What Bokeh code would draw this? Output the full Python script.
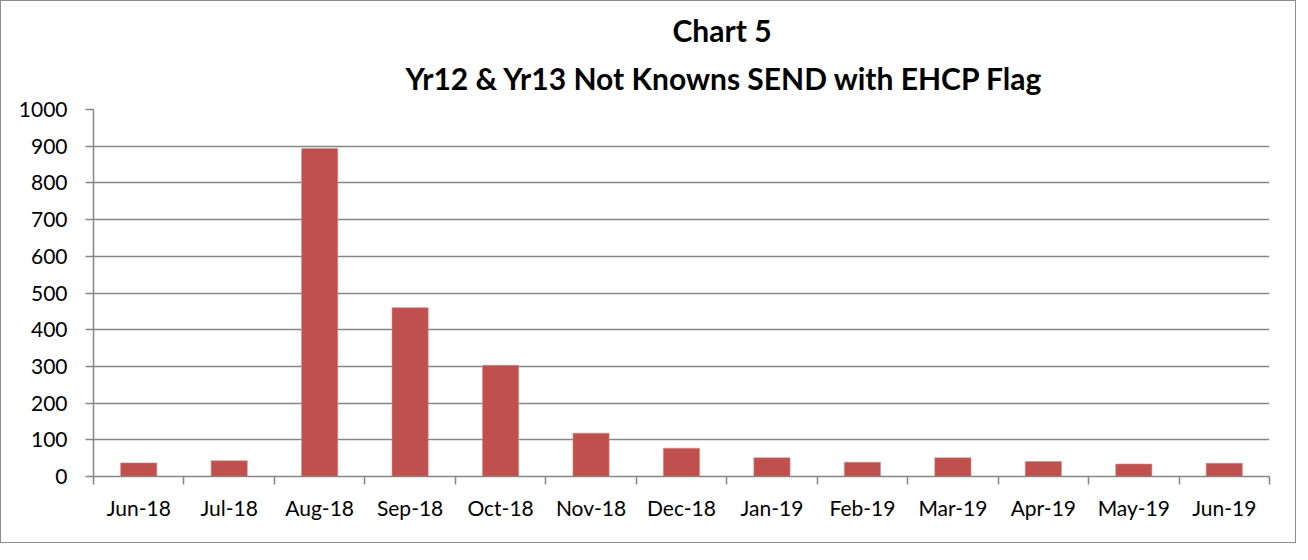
from bokeh.plotting import figure
from bokeh.models import ColumnDataSource, FixedTicker, Range1d, Title
from bokeh.embed import file_html
from bokeh.resources import INLINE

months = ["Jun-18", "Jul-18", "Aug-18", "Sep-18", "Oct-18", "Nov-18", "Dec-18",
          "Jan-19", "Feb-19", "Mar-19", "Apr-19", "May-19", "Jun-19"]
counts = [37, 43, 894, 460, 303, 118, 77, 51, 39, 51, 41, 34, 36]
y_ticks = [0, 100, 200, 300, 400, 500, 600, 700, 800, 900, 1000]
title_line1 = "Chart 5"
title_line2 = "Yr12 & Yr13 Not Knowns SEND with EHCP Flag"

FONT = "Lato"
GRAY = "#868686"
BAR = "#C0504D"

xs = [i + 0.5 for i in range(len(months))]
src = ColumnDataSource(dict(x=xs, top=counts, label=months))

p = figure(width=1296, height=543, output_backend="svg", toolbar_location=None,
           x_range=Range1d(0, len(months)), y_range=Range1d(0, 1000),
           min_border_left=92, min_border_right=28, min_border_top=108,
           min_border_bottom=68)
p.title.visible = False
p.styles = {"border": "1px solid #8c8c8c", "box-sizing": "border-box"}

p.vbar(x="x", top="top", width=0.4, bottom=0, source=src, fill_color=BAR,
       line_color="#d98a88", line_width=0.6)

# titles (first added is closest to the plot)
t2 = Title(text=title_line2, align="left", text_font=FONT, text_font_size="30px",
           text_font_style="bold", text_color="black", offset=312, standoff=27)
t1 = Title(text=title_line1, align="left", text_font=FONT, text_font_size="30px",
           text_font_style="bold", text_color="black", offset=579, standoff=-7)
p.add_layout(t2, "above")
p.add_layout(t1, "above")

# x axis: labels at centres, ticks at boundaries
p.xaxis.ticker = FixedTicker(ticks=xs, minor_ticks=list(range(len(months) + 1)))
p.xaxis.major_label_overrides = {x: m for x, m in zip(xs, months)}
p.xaxis.major_tick_out = 0
p.xaxis.major_tick_in = 0
p.xaxis.minor_tick_out = 8
p.xaxis.minor_tick_in = 0
p.xaxis.minor_tick_line_color = GRAY
p.xaxis.minor_tick_line_width = 1.5
p.xaxis.axis_line_color = GRAY
p.xaxis.axis_line_width = 1.5
p.xaxis.major_label_text_font = FONT
p.xaxis.major_label_text_font_size = "21px"
p.xaxis.major_label_text_color = "black"
p.xaxis.major_label_standoff = 10

p.yaxis.ticker = FixedTicker(ticks=y_ticks, minor_ticks=[])
p.yaxis.major_tick_out = 8
p.yaxis.major_tick_in = 0
p.yaxis.major_tick_line_color = GRAY
p.yaxis.major_tick_line_width = 1.5
p.yaxis.axis_line_color = GRAY
p.yaxis.axis_line_width = 1.5
p.yaxis.major_label_text_font = FONT
p.yaxis.major_label_text_font_size = "21px"
p.yaxis.major_label_text_color = "black"
p.yaxis.major_label_standoff = 18

p.xgrid.visible = False
p.ygrid.ticker = FixedTicker(ticks=y_ticks)
p.ygrid.grid_line_color = GRAY
p.ygrid.grid_line_width = 1.5
p.outline_line_color = None
p.background_fill_color = "white"
p.border_fill_color = "white"

open("out.html", "w").write(file_html(p, INLINE))
